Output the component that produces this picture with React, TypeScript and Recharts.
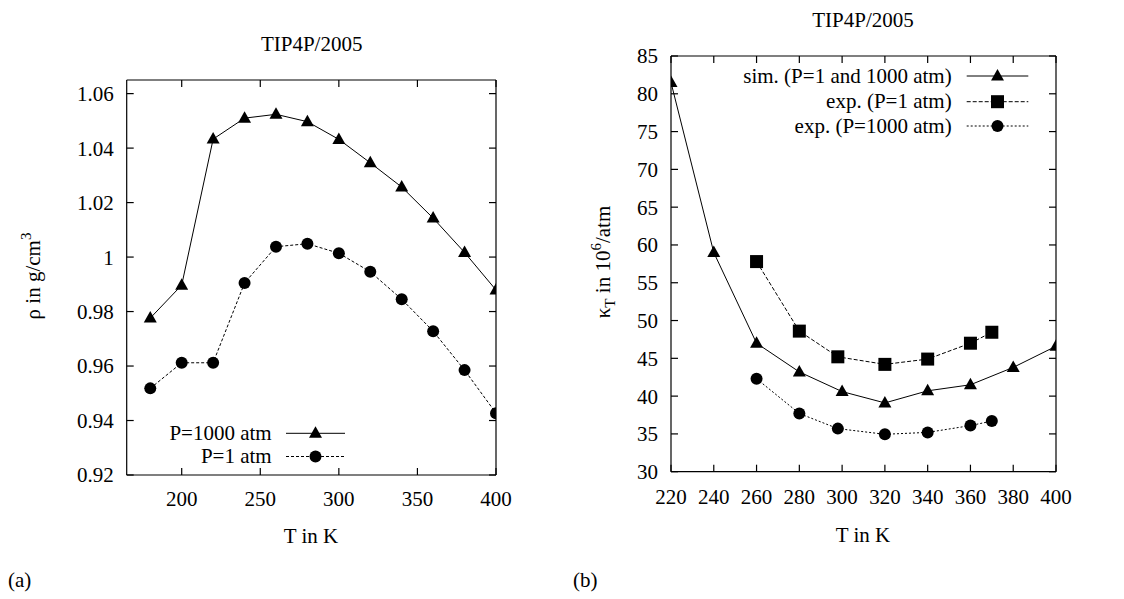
import React from 'react';
import { LineChart, Line, XAxis, YAxis, Legend } from 'recharts';

// ---------- Panel (a): density ----------
const tempsA = [180, 200, 220, 240, 260, 280, 300, 320, 340, 360, 380, 400];
const rhoP1000 = [0.9776, 0.9897, 1.0433, 1.051, 1.0524, 1.0497, 1.0432, 1.0346, 1.0257, 1.0143, 1.0017, 0.9879];
const rhoP1 = [0.9518, 0.9612, 0.9612, 0.9905, 1.0038, 1.0049, 1.0014, 0.9946, 0.9845, 0.9728, 0.9585, 0.9427];
const xTicksA = [200, 250, 300, 350, 400];
const yTicksA = [0.92, 0.94, 0.96, 0.98, 1, 1.02, 1.04, 1.06];
const legendA = ['P=1000 atm', 'P=1 atm'];

// ---------- Panel (b): compressibility ----------
const tempsSim = [220, 240, 260, 280, 300, 320, 340, 360, 380, 400];
const kappaSim = [81.5, 59.0, 47.0, 43.2, 40.6, 39.1, 40.7, 41.5, 43.8, 46.6];
const tempsExp = [260, 280, 298, 320, 340, 360, 370];
const kappaExpP1 = [57.8, 48.6, 45.2, 44.2, 44.9, 47.0, 48.45];
const kappaExpP1000 = [42.3, 37.7, 35.7, 34.95, 35.2, 36.1, 36.7];
const xTicksB = [220, 240, 260, 280, 300, 320, 340, 360, 380, 400];
const yTicksB = [30, 35, 40, 45, 50, 55, 60, 65, 70, 75, 80, 85];
const legendB = ['sim. (P=1 and 1000 atm)', 'exp. (P=1 atm)', 'exp. (P=1000 atm)'];

const titleText = 'TIP4P/2005';
const xLabelText = 'T in K';

const dataA = tempsA.map((t, i) => ({ T: t, p1000: rhoP1000[i], p1: rhoP1[i] }));
const dataSim = tempsSim.map((t, i) => ({ T: t, k: kappaSim[i] }));
const dataExp1 = tempsExp.map((t, i) => ({ T: t, k: kappaExpP1[i] }));
const dataExp1000 = tempsExp.map((t, i) => ({ T: t, k: kappaExpP1000[i] }));

const FONT = "'Liberation Serif', 'DejaVu Serif', serif";
const FS = 21;
const tickStyle = { fontFamily: FONT, fontSize: FS, fill: '#000' };

const TriDot = (props: any) => {
  const { cx, cy } = props;
  if (cx == null || cy == null) return null;
  return <path d={`M${cx},${cy - 7} L${cx + 6.5},${cy + 4.5} L${cx - 6.5},${cy + 4.5} Z`} fill="#000" />;
};
const CircDot = (props: any) => {
  const { cx, cy } = props;
  if (cx == null || cy == null) return null;
  return <circle cx={cx} cy={cy} r={6} fill="#000" />;
};
const SqDot = (props: any) => {
  const { cx, cy } = props;
  if (cx == null || cy == null) return null;
  return <rect x={cx - 6.5} y={cy - 6.5} width={13} height={13} fill="#000" />;
};

type LegItem = { label: string; dash?: string; marker: 'tri' | 'circ' | 'sq' };

const LegendBox = ({ items, textRight, lx1, lx2, rowY }: { items: LegItem[]; textRight: number; lx1: number; lx2: number; rowY: number[] }) => {
  const mx = (lx1 + lx2) / 2;
  return (
    <svg width={300} height={90} style={{ overflow: 'visible', display: 'block' }}>
      {items.map((it, i) => {
        const y = rowY[i];
        return (
          <g key={i}>
            <text x={textRight} y={y + 6.5} textAnchor="end" fontFamily={FONT} fontSize={FS} fill="#000">{it.label}</text>
            <line x1={lx1} x2={lx2} y1={y} y2={y} stroke="#000" strokeWidth={1} strokeDasharray={it.dash} />
            {it.marker === 'tri' && <TriDot cx={mx} cy={y} />}
            {it.marker === 'circ' && <CircDot cx={mx} cy={y} />}
            {it.marker === 'sq' && <SqDot cx={mx} cy={y} />}
          </g>
        );
      })}
    </svg>
  );
};

const blank = () => '';

export default function App() {
  return (
    <div style={{ position: 'absolute', left: 0, top: 0, width: 1124, height: 599, background: '#fff' }}>
      {/* Panel (a) */}
      <div style={{ position: 'absolute', left: 0, top: 0 }}>
        <LineChart width={560} height={599} data={dataA} margin={{ top: 79, left: 125.7, right: 63, bottom: 123 }}>
          <XAxis xAxisId="b" dataKey="T" type="number" domain={[165, 400]} ticks={xTicksA} height={1} allowDataOverflow stroke="#000" strokeWidth={1.2} tick={tickStyle} tickSize={-7} tickMargin={23} interval={0} />
          <XAxis xAxisId="t" orientation="top" dataKey="T" type="number" domain={[165, 400]} ticks={xTicksA} height={1} allowDataOverflow stroke="#000" strokeWidth={1.2} tickFormatter={blank} tickSize={-7} interval={0} />
          <YAxis yAxisId="l" type="number" domain={[0.92, 1.065]} ticks={yTicksA} width={1} allowDataOverflow stroke="#000" strokeWidth={1.2} tick={tickStyle} tickSize={-7} tickMargin={20} interval={0} />
          <YAxis yAxisId="r" orientation="right" type="number" domain={[0.92, 1.065]} ticks={yTicksA} width={1} allowDataOverflow stroke="#000" strokeWidth={1.2} tickFormatter={blank} tickSize={-7} interval={0} />
          <Line xAxisId="b" yAxisId="l" dataKey="p1000" stroke="#000" strokeWidth={1} dot={<TriDot />} isAnimationActive={false} />
          <Line xAxisId="b" yAxisId="l" dataKey="p1" stroke="#000" strokeWidth={1} strokeDasharray="3 2" dot={<CircDot />} isAnimationActive={false} />
          <Line xAxisId="t" yAxisId="r" dataKey="p1" stroke="none" dot={false} isAnimationActive={false} legendType="none" />
          <Legend
            layout="horizontal"
            verticalAlign="middle"
            align="center"
            wrapperStyle={{ position: 'absolute', left: 140, top: 420, width: 300, height: 90 }}
            content={() => (
              <LegendBox
                items={[
                  { label: legendA[0], marker: 'tri' },
                  { label: legendA[1], dash: '3 2', marker: 'circ' },
                ]}
                textRight={131.7}
                lx1={146}
                lx2={205}
                rowY={[13.3, 36.5]}
              />
            )}
          />
        </LineChart>
      </div>

      {/* Panel (b) */}
      <div style={{ position: 'absolute', left: 560, top: 0 }}>
        <LineChart width={564} height={599} margin={{ top: 55, left: 110, right: 67, bottom: 126.3 }}>
          <XAxis xAxisId="b" dataKey="T" type="number" domain={[220, 400]} ticks={xTicksB} height={1} allowDataOverflow stroke="#000" strokeWidth={1.2} tick={tickStyle} tickSize={-7} tickMargin={24} interval={0} />
          <XAxis xAxisId="t" orientation="top" dataKey="T" type="number" domain={[220, 400]} ticks={xTicksB} height={1} allowDataOverflow stroke="#000" strokeWidth={1.2} tickFormatter={blank} tickSize={-7} interval={0} />
          <YAxis yAxisId="l" type="number" domain={[30, 85]} ticks={yTicksB} width={1} allowDataOverflow stroke="#000" strokeWidth={1.2} tick={tickStyle} tickSize={-7} tickMargin={20} interval={0} />
          <YAxis yAxisId="r" orientation="right" type="number" domain={[30, 85]} ticks={yTicksB} width={1} allowDataOverflow stroke="#000" strokeWidth={1.2} tickFormatter={blank} tickSize={-7} interval={0} />
          <Line xAxisId="b" yAxisId="l" data={dataSim} dataKey="k" stroke="#000" strokeWidth={1} dot={<TriDot />} isAnimationActive={false} />
          <Line xAxisId="b" yAxisId="l" data={dataExp1} dataKey="k" stroke="#000" strokeWidth={1} strokeDasharray="4 2" dot={<SqDot />} isAnimationActive={false} />
          <Line xAxisId="b" yAxisId="l" data={dataExp1000} dataKey="k" stroke="#000" strokeWidth={1} strokeDasharray="2 2" dot={<CircDot />} isAnimationActive={false} />
          <Line xAxisId="t" yAxisId="r" data={dataSim} dataKey="k" stroke="none" dot={false} isAnimationActive={false} legendType="none" />
          <Legend
            layout="horizontal"
            verticalAlign="middle"
            align="center"
            wrapperStyle={{ position: 'absolute', left: 200, top: 60, width: 300, height: 90 }}
            content={() => (
              <LegendBox
                items={[
                  { label: legendB[0], marker: 'tri' },
                  { label: legendB[1], dash: '4 2', marker: 'sq' },
                  { label: legendB[2], dash: '2 2', marker: 'circ' },
                ]}
                textRight={191.7}
                lx1={206.7}
                lx2={268.3}
                rowY={[16, 41.7, 66]}
              />
            )}
          />
        </LineChart>
      </div>

      {/* Titles and axis labels */}
      <svg width={1124} height={599} style={{ position: 'absolute', left: 0, top: 0, pointerEvents: 'none' }}>
        <g fontFamily={FONT} fontSize={FS} fill="#000">
          <text x={311.7} y={51} textAnchor="middle">{titleText}</text>
          <text x={863} y={26.5} textAnchor="middle">{titleText}</text>
          <text x={311} y={543} textAnchor="middle">{xLabelText}</text>
          <text x={863} y={541.5} textAnchor="middle">{xLabelText}</text>
          <text x={8} y={587}>(a)</text>
          <text x={573} y={587}>(b)</text>
          <text x={40} y={276} textAnchor="middle" transform="rotate(-90 40 276)">
            ρ in g/cm<tspan dy={-9} fontSize={15}>3</tspan>
          </text>
          <text x={610} y={262} textAnchor="middle" transform="rotate(-90 610 262)">
            κ<tspan dy={5} fontSize={15}>T</tspan><tspan dy={-5}> in 10</tspan><tspan dy={-9} fontSize={15}>6</tspan><tspan dy={9}>/atm</tspan>
          </text>
        </g>
      </svg>
    </div>
  );
}
